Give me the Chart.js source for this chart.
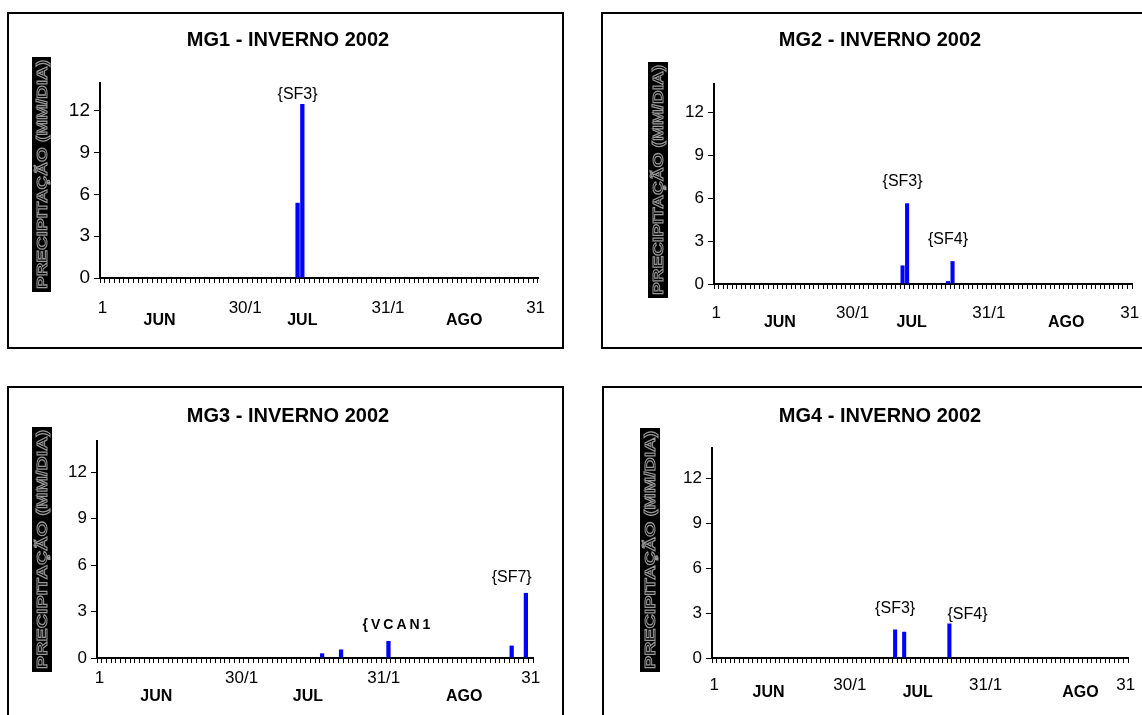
<!DOCTYPE html>
<html>
<head>
<meta charset="utf-8">
<script src="https://cdn.jsdelivr.net/npm/chart.js@4.4.1/dist/chart.umd.min.js"></script>
<style>
  body { margin: 0; background: #fff; width: 1142px; height: 715px; overflow: hidden; position: relative; }
  .panel { position: absolute; border: 2px solid #000; box-sizing: border-box; background: #fff; overflow: hidden; }
  .panel canvas { display: block; }
</style>
</head>
<body>
<div class="panel" style="left:7px;top:12px;width:557px;height:337px"><canvas id="c1" width="553" height="333"></canvas></div>
<div class="panel" style="left:601px;top:12px;width:560px;height:337px"><canvas id="c2" width="556" height="333"></canvas></div>
<div class="panel" style="left:7px;top:386px;width:557px;height:340px"><canvas id="c3" width="553" height="336"></canvas></div>
<div class="panel" style="left:602px;top:386px;width:560px;height:340px"><canvas id="c4" width="556" height="336"></canvas></div>
<script>
const FONT = 'Arial, "Liberation Sans", sans-serif';

// dias de 1 jun a 31 ago (categorias)
const days = [];
[['06', 30], ['07', 31], ['08', 31]].forEach(([m, n]) => {
    for (let d = 1; d <= n; d++) days.push(String(d).padStart(2, '0') + '/' + m);
});

// precipitacao (mm/dia)
const mg1Days = ['12/07', '13/07'];
const mg1Values = [5.4, 12.5];
const mg2Days = ['12/07', '13/07', '22/07', '23/07'];
const mg2Values = [1.3, 5.65, 0.2, 1.6];
const mg3Days = ['18/07', '22/07', '01/08', '27/08', '30/08'];
const mg3Values = [0.3, 0.55, 1.1, 0.8, 4.2];
const mg4Days = ['11/07', '13/07', '23/07'];
const mg4Values = [1.9, 1.75, 2.3];

// sistemas (rotulos sobre as barras)
const mg1Notes = ['{SF3}'];
const mg1NoteDays = ['12/07'];
const mg1NoteY = [13.2];
const mg2Notes = ['{SF3}', '{SF4}'];
const mg2NoteDays = ['12/07', '22/07'];
const mg2NoteY = [7.2, 3.1];
const mg3Notes = ['{VCAN1', '{SF7}'];
const mg3NoteDays = ['03/08', '27/08'];
const mg3NoteY = [2.1, 5.2];
const mg4Notes = ['{SF3}', '{SF4}'];
const mg4NoteDays = ['11/07', '27/07'];
const mg4NoteY = [3.3, 2.9];

// eixos
const yTicks = [0, 3, 6, 9, 12];
const dayTickLabels = ['1', '30/1', '31/1', '31'];
const dayTickDays = ['01/06', '01/07', '31/07', '31/08'];
const monthLabels = ['JUN', 'JUL', 'AGO'];
const yTitle = 'PRECIPITAÇÃO (MM/DIA)';

const panels = [
    { id: 'c1', title: 'MG1 - INVERNO 2002', cats: mg1Days, vals: mg1Values,
      notes: mg1Notes, noteDays: mg1NoteDays, noteY: mg1NoteY,
      area: { left: 91, right: 529, top: 69, bottom: 264 }, titleX: 279, titleY: 26,
      box: { x: 23, y: 43, w: 19, h: 235 }, dayY: 294, monthY: 307, yFont: 19,
      monthDays: ['13/06', '13/07', '16/08'] },
    { id: 'c2', title: 'MG2 - INVERNO 2002', cats: mg2Days, vals: mg2Values,
      notes: mg2Notes, noteDays: mg2NoteDays, noteY: mg2NoteY,
      area: { left: 111, right: 529, top: 70, bottom: 270 }, titleX: 277, titleY: 26.5,
      box: { x: 45, y: 48, w: 20, h: 236 }, dayY: 299, monthY: 309, yFont: 17,
      monthDays: ['15/06', '14/07', '17/08'] },
    { id: 'c3', title: 'MG3 - INVERNO 2002', cats: mg3Days, vals: mg3Values,
      notes: mg3Notes, noteDays: mg3NoteDays, noteY: mg3NoteY,
      area: { left: 88, right: 524, top: 53, bottom: 270 }, titleX: 279, titleY: 28,
      box: { x: 23, y: 39, w: 20, h: 245 }, dayY: 290, monthY: 309, yFont: 17,
      monthDays: ['13/06', '15/07', '17/08'] },
    { id: 'c4', title: 'MG4 - INVERNO 2002', cats: mg4Days, vals: mg4Values,
      notes: mg4Notes, noteDays: mg4NoteDays, noteY: mg4NoteY,
      area: { left: 108, right: 524, top: 60, bottom: 270 }, titleX: 276, titleY: 28,
      box: { x: 36, y: 40, w: 20, h: 244 }, dayY: 297, monthY: 305, yFont: 17,
      monthDays: ['13/06', '16/07', '21/08'] }
];

// titulo, caixa do eixo y e rotulos dos sistemas
const decor = {
    id: 'decor',
    afterDraw(chart, args, p) {
        const ctx = chart.ctx;
        ctx.save();
        ctx.fillStyle = '#000';
        ctx.textAlign = 'center';
        ctx.textBaseline = 'middle';
        ctx.font = 'bold 20px ' + FONT;
        ctx.fillText(p.title, p.titleX, p.titleY);

        // caixa preta com texto vazado
        const b = p.box;
        ctx.fillRect(b.x, b.y, b.w, b.h);
        ctx.save();
        ctx.translate(b.x + b.w / 2, b.y + b.h / 2);
        ctx.rotate(-Math.PI / 2);
        ctx.font = 'bold 15px ' + FONT;
        const tw = ctx.measureText(yTitle).width;
        ctx.scale((b.h - 6) / tw, 1);
        ctx.strokeStyle = '#9a9a9a';
        ctx.lineWidth = 1;
        ctx.strokeText(yTitle, 0, 1);
        ctx.restore();

        const xs = chart.scales.x, ys = chart.scales.y;
        p.notes.forEach((t, i) => {
            const x = xs.getPixelForValue(days.indexOf(p.noteDays[i]));
            const y = ys.getPixelForValue(p.noteY[i]);
            if (t.startsWith('{VCAN')) {
                ctx.font = 'bold 14px ' + FONT;
                ctx.letterSpacing = '3px';
            } else {
                ctx.font = '16px ' + FONT;
                ctx.letterSpacing = '0px';
            }
            ctx.fillText(t, x, y);
        });
        ctx.restore();
    }
};

function makeChart(p) {
    const cv = document.getElementById(p.id);
    const W = cv.width, H = cv.height;
    const catH = 6, lblH = 46;
    const daySize = 17, monthSize = 16;
    const lblTop = p.area.bottom + catH;
    const lblPad = p.dayY - lblTop - daySize * 0.6;
    const monthLH = (p.monthY - lblTop - lblPad) / (1.5 * monthSize);
    const dayIdx = dayTickDays.map(d => days.indexOf(d));
    const monthIdx = p.monthDays.map(d => days.indexOf(d));
    const dayFont = { family: FONT, size: daySize, lineHeight: 1.2 };
    const monthFont = { family: FONT, size: monthSize, weight: 'bold', lineHeight: monthLH };

    new Chart(cv, {
        type: 'bar',
        data: {
            labels: days,
            datasets: [{
                data: p.cats.map((d, i) => ({ x: d, y: p.vals[i] })),
                backgroundColor: '#0000ff',
                borderWidth: 0,
                barPercentage: 0.9,
                categoryPercentage: 1
            }]
        },
        options: {
            responsive: false,
            animation: false,
            events: [],
            layout: { padding: { left: 0, right: W - p.area.right, top: p.area.top, bottom: H - lblTop - lblH } },
            plugins: {
                legend: { display: false },
                tooltip: { enabled: false },
                title: { display: false },
                decor: p
            },
            scales: {
                x: {
                    type: 'category',
                    offset: true,
                    weight: 0,
                    grid: { display: true, offset: true, drawOnChartArea: false, drawTicks: true, tickLength: 5, color: '#000', lineWidth: 1 },
                    border: { display: true, color: '#000', width: 2 },
                    ticks: { display: false },
                    afterFit: s => { s.height = catH; }
                },
                xLabels: {
                    type: 'category',
                    position: 'bottom',
                    weight: 1,
                    offset: true,
                    grid: { display: false, drawTicks: false, tickLength: 0 },
                    border: { display: false },
                    ticks: {
                        autoSkip: false, maxRotation: 0, minRotation: 0, padding: lblPad, color: '#000',
                        font: c => (monthIdx.includes(c.index) ? monthFont : dayFont),
                        callback: (v, i) => {
                            const d = dayIdx.indexOf(i);
                            if (d >= 0) return dayTickLabels[d];
                            const m = monthIdx.indexOf(i);
                            if (m >= 0) return ['', monthLabels[m]];
                            return '';
                        }
                    },
                    afterFit: s => { s.height = lblH; }
                },
                y: {
                    min: 0, max: 14,
                    afterBuildTicks: s => { s.ticks = yTicks.map(v => ({ value: v })); },
                    grid: { display: true, drawOnChartArea: false, drawTicks: true, tickLength: 6, color: '#000' },
                    border: { display: true, color: '#000', width: 2 },
                    ticks: { color: '#000', padding: 4, font: { family: FONT, size: p.yFont } },
                    afterFit: s => { s.width = p.area.left; }
                }
            }
        },
        plugins: [decor]
    });
}

panels.forEach(makeChart);
</script>
</body>
</html>
